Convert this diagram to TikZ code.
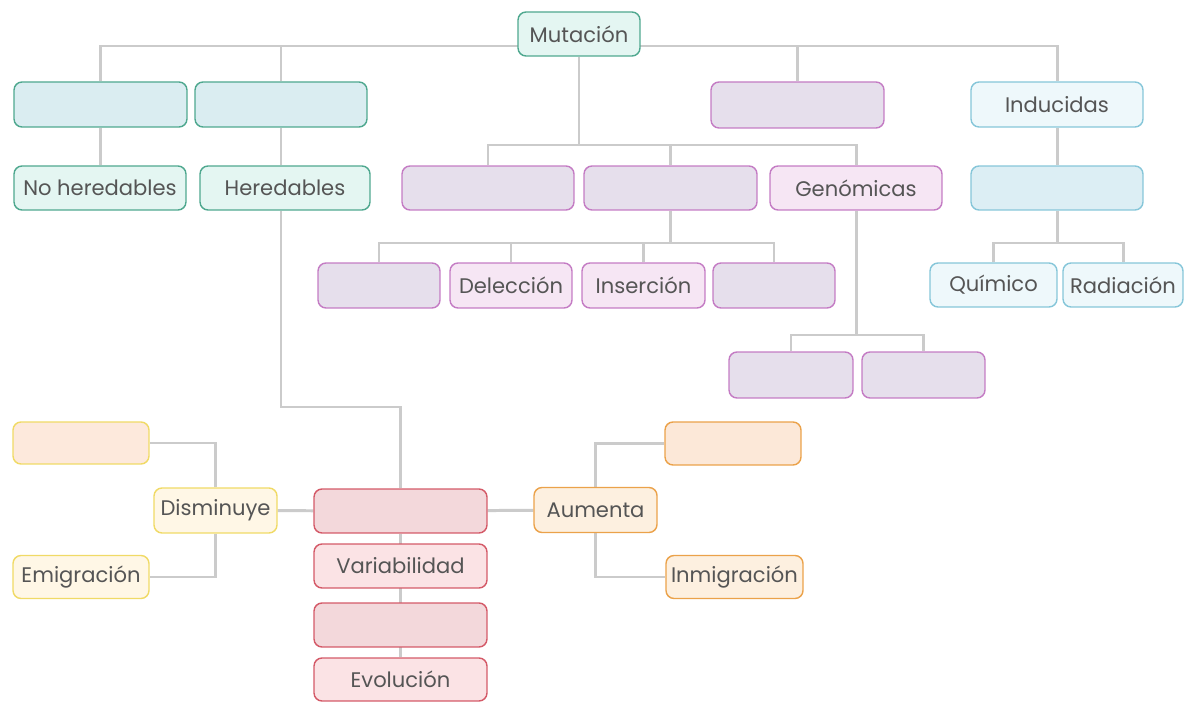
\documentclass[tikz,border=0pt]{standalone}
\usepackage{fontspec}
\setmainfont{Poppins}
\usetikzlibrary{backgrounds}

\definecolor{ink}{HTML}{555555}
\definecolor{linkgray}{HTML}{CBCBCB}
\definecolor{tealline}{HTML}{4FA88F}
\definecolor{tealfill}{HTML}{E4F6F2}
\definecolor{tealblank}{HTML}{DAEDF1}
\definecolor{purpline}{HTML}{C47CC4}
\definecolor{purpfill}{HTML}{F6E6F4}
\definecolor{purpblank}{HTML}{E6DFEC}
\definecolor{blueline}{HTML}{86C6D9}
\definecolor{bluefill}{HTML}{EEF8FB}
\definecolor{blueblank}{HTML}{DCEEF4}
\definecolor{redline}{HTML}{D45A68}
\definecolor{redfill}{HTML}{FBE3E5}
\definecolor{redblank}{HTML}{F3D8DB}
\definecolor{yelline}{HTML}{F0DA66}
\definecolor{yelfill}{HTML}{FFF7E6}
\definecolor{yelblank}{HTML}{FDE9DC}
\definecolor{orline}{HTML}{EBA24A}
\definecolor{orfill}{HTML}{FDF0E0}
\definecolor{orblank}{HTML}{FCE8D8}

\begin{document}
\begin{tikzpicture}[x=0.02cm, y=-0.02cm,
  every node/.style={rounded corners=0.16cm, align=center, inner sep=0pt,
    line width=0.8pt, text=ink, font=\fontsize{12}{14}\selectfont},
  teal/.style={draw=tealline, fill=tealfill},
  tealempty/.style={draw=tealline, fill=tealblank},
  purp/.style={draw=purpline, fill=purpfill},
  purpempty/.style={draw=purpline, fill=purpblank},
  blue/.style={draw=blueline, fill=bluefill},
  blueempty/.style={draw=blueline, fill=blueblank},
  rouge/.style={draw=redline, fill=redfill},
  rougeempty/.style={draw=redline, fill=redblank},
  yel/.style={draw=yelline, fill=yelfill},
  yelempty/.style={draw=yelline, fill=yelblank},
  orng/.style={draw=orline, fill=orfill},
  orngempty/.style={draw=orline, fill=orblank},
  link/.style={draw=linkgray, line width=1.7pt}]

  \useasboundingbox (0,0) rectangle (1191,702);

  % top
  \node[teal, minimum width=2.44cm, minimum height=0.88cm]
    (mut) at (579, 34) {Mutación};

  \node[tealempty, minimum width=3.46cm, minimum height=0.9cm]
    (blankA) at (100.5, 104.5) {};
  \node[tealempty, minimum width=3.44cm, minimum height=0.9cm]
    (blankB) at (281, 104.5) {};
  \node[teal, minimum width=3.44cm, minimum height=0.88cm]
    (noher) at (100, 188) {No heredables};
  \node[teal, minimum width=3.4cm, minimum height=0.88cm]
    (her) at (285, 188) {Heredables};

  \node[purpempty, minimum width=3.46cm, minimum height=0.92cm]
    (ptop) at (797.5, 105) {};
  \node[purpempty, minimum width=3.44cm, minimum height=0.88cm]
    (p1) at (488, 188) {};
  \node[purpempty, minimum width=3.46cm, minimum height=0.88cm]
    (p2) at (670.5, 188) {};
  \node[purp, minimum width=3.44cm, minimum height=0.88cm]
    (gen) at (856, 188) {Genómicas};

  \node[purpempty, minimum width=2.44cm, minimum height=0.9cm]
    (q1) at (379, 285.5) {};
  \node[purp, minimum width=2.44cm, minimum height=0.9cm]
    (del) at (511, 285.5) {Delección};
  \node[purp, minimum width=2.46cm, minimum height=0.9cm]
    (ins) at (643.5, 285.5) {Inserción};
  \node[purpempty, minimum width=2.44cm, minimum height=0.9cm]
    (q4) at (774, 285.5) {};

  \node[purpempty, minimum width=2.48cm, minimum height=0.92cm]
    (r1) at (791, 375) {};
  \node[purpempty, minimum width=2.46cm, minimum height=0.92cm]
    (r2) at (923.5, 375) {};

  \node[blue, minimum width=3.44cm, minimum height=0.9cm]
    (ind) at (1057, 104.5) {Inducidas};
  \node[blueempty, minimum width=3.44cm, minimum height=0.88cm]
    (ind2) at (1057, 188) {};
  \node[blue, minimum width=2.54cm, minimum height=0.88cm]
    (quim) at (993.5, 285) {Químico};
  \node[blue, minimum width=2.4cm, minimum height=0.88cm]
    (rad) at (1123, 285) {Radiación};

  % bottom
  \node[rougeempty, minimum width=3.46cm, minimum height=0.88cm]
    (red1) at (400.5, 511) {};
  \node[rouge, minimum width=3.46cm, minimum height=0.88cm]
    (var) at (400.5, 566) {Variabilidad};
  \node[rougeempty, minimum width=3.46cm, minimum height=0.88cm]
    (red3) at (400.5, 625) {};
  \node[rouge, minimum width=3.46cm, minimum height=0.86cm]
    (evo) at (400.5, 679.5) {Evolución};

  \node[yel, minimum width=2.46cm, minimum height=0.9cm]
    (dism) at (215.5, 510.5) {Disminuye};
  \node[yelempty, minimum width=2.72cm, minimum height=0.84cm]
    (yblank) at (81, 443) {};
  \node[yel, minimum width=2.72cm, minimum height=0.86cm]
    (emig) at (81, 577) {Emigración};

  \node[orng, minimum width=2.46cm, minimum height=0.9cm]
    (aum) at (595.5, 510) {Aumenta};
  \node[orngempty, minimum width=2.72cm, minimum height=0.86cm]
    (oblank) at (733, 443.5) {};
  \node[orng, minimum width=2.74cm, minimum height=0.86cm]
    (inmig) at (734.5, 577) {Inmigración};

  \coordinate (bar) at (0, 46);
  \coordinate (pbar) at (0, 145);
  \coordinate (qbar) at (0, 243);
  \coordinate (rbar) at (0, 335);
  \coordinate (hbar) at (0, 407);

  \begin{scope}[on background layer]
    \draw[link] (blankA.north) |- (ind.north |- bar) -- (ind.north);
    \draw[link] (blankB.north) -- (blankB.north |- bar);
    \draw[link] (ptop.north) -- (ptop.north |- bar);
    \draw[link] (blankA.south) -- (blankA.south |- noher.north);
    \draw[link] (blankB.south) -- (blankB.south |- noher.north);

    \draw[link] (mut.south) -- (mut.south |- pbar);
    \draw[link] (p1.north) |- (gen.north |- pbar) -- (gen.north);
    \draw[link] (p2.north) -- (p2.north |- pbar);

    \draw[link] (p2.south) -- (p2.south |- qbar);
    \draw[link] (q1.north) |- (q4.north |- qbar) -- (q4.north);
    \draw[link] (del.north) -- (del.north |- qbar);
    \draw[link] (ins.north) -- (ins.north |- qbar);

    \draw[link] (gen.south) -- (gen.south |- rbar);
    \draw[link] (r1.north) |- (r2.north |- rbar) -- (r2.north);

    \draw[link] (ind) -- (ind2);
    \draw[link] (ind2.south) -- (ind2.south |- qbar);
    \draw[link] (quim.north) |- (rad.north |- qbar) -- (rad.north);

    \draw[link] (blankB.south |- her.south) |- (red1.north |- hbar) -- (red1.north);
    \draw[link] (red1) -- (evo);

    \draw[link] (dism) -- (red1);
    \draw[link] (dism.north) |- (yblank.east);
    \draw[link] (dism.south) |- (emig.east);
    \draw[link] (red1) -- (aum);
    \draw[link] (aum.north) |- (oblank.west);
    \draw[link] (aum.south) |- (inmig.west);
  \end{scope}
\end{tikzpicture}
\end{document}
